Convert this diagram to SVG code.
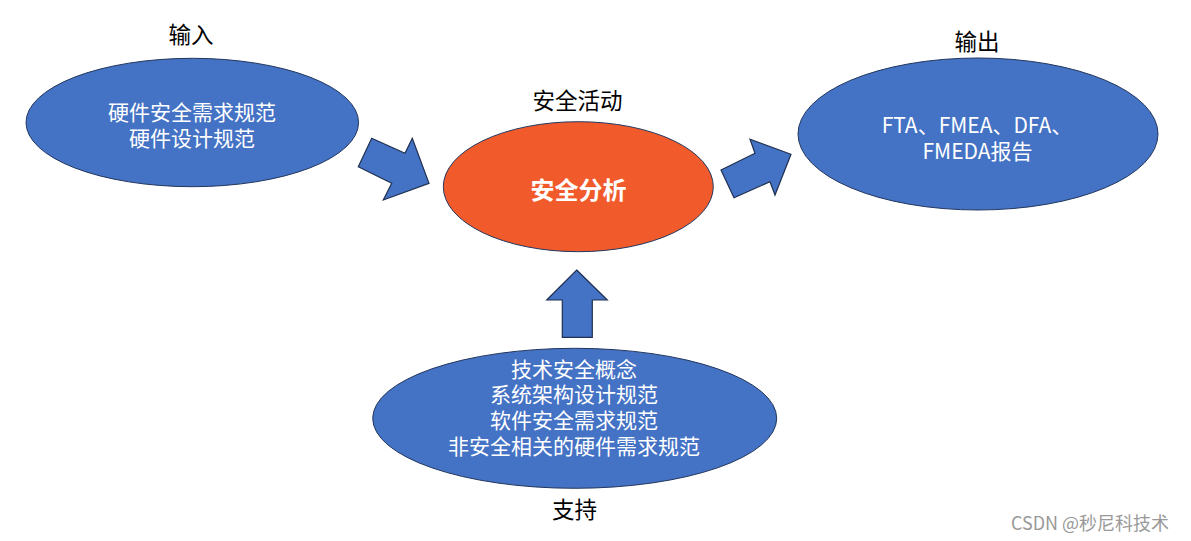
<svg xmlns="http://www.w3.org/2000/svg" width="1191" height="541" viewBox="0 0 1191 541">
<style>
.node{fill:#4472C4;stroke:#23375E;stroke-width:1}
.core{fill:#F15A2B;stroke:#23375E;stroke-width:1}
.arrow{fill:#4472C4;stroke:#1F3050;stroke-width:1.2;stroke-linejoin:miter}
text{font-family:"Microsoft YaHei","Noto Sans CJK SC","Noto Sans",sans-serif;dominant-baseline:central;text-anchor:middle}
.in{fill:#FFFFFF;font-size:21px}
.lbl{fill:#000000;font-size:22.5px}
.bold{fill:#FFFFFF;font-size:24px;font-weight:bold}
.wm{fill:#999999;font-size:18px}
</style>
<rect width="1191" height="541" fill="#FFFFFF"/>
<g id="connectors">
<polygon class="arrow" points="371.7,138.3 405,153.3 412.3,138.3 429,183.3 383.3,200 391.7,183.3 358.3,166.7"/>
<polygon class="arrow" points="721,170 755,153.3 750,139.3 791,154.3 775,195 770,181.7 734,197.7"/>
<polygon class="arrow" points="576.7,270 607.3,300 592.3,300 592.3,337.3 562.3,337.3 562.3,300 546.7,300"/>
</g>
<g id="input">
<text class="lbl" x="191" y="33">输入</text>
<ellipse class="node" cx="192.3" cy="122.5" rx="166.3" ry="64.2"/>
<text class="in" x="192" y="110.5">硬件安全需求规范</text>
<text class="in" x="192" y="136.5">硬件设计规范</text>
</g>
<g id="activity">
<text class="lbl" x="577.5" y="99">安全活动</text>
<ellipse class="core" cx="578.3" cy="186.7" rx="135" ry="65"/>
<text class="bold" x="578.5" y="188">安全分析</text>
</g>
<g id="output">
<text class="lbl" x="977" y="40">输出</text>
<ellipse class="node" cx="978" cy="134" rx="180" ry="76"/>
<text class="in" x="977" y="123.5">FTA、FMEA、DFA、</text>
<text class="in" x="977.5" y="150">FMEDA报告</text>
</g>
<g id="support">
<ellipse class="node" cx="574.7" cy="418.3" rx="202" ry="70"/>
<text class="in" x="574" y="368">技术安全概念</text>
<text class="in" x="574" y="393">系统架构设计规范</text>
<text class="in" x="574" y="418.5">软件安全需求规范</text>
<text class="in" x="574" y="444.5">非安全相关的硬件需求规范</text>
<text class="lbl" x="574.5" y="508">支持</text>
</g>
<text class="wm" x="1090" y="522">CSDN @秒尼科技术</text>
</svg>
